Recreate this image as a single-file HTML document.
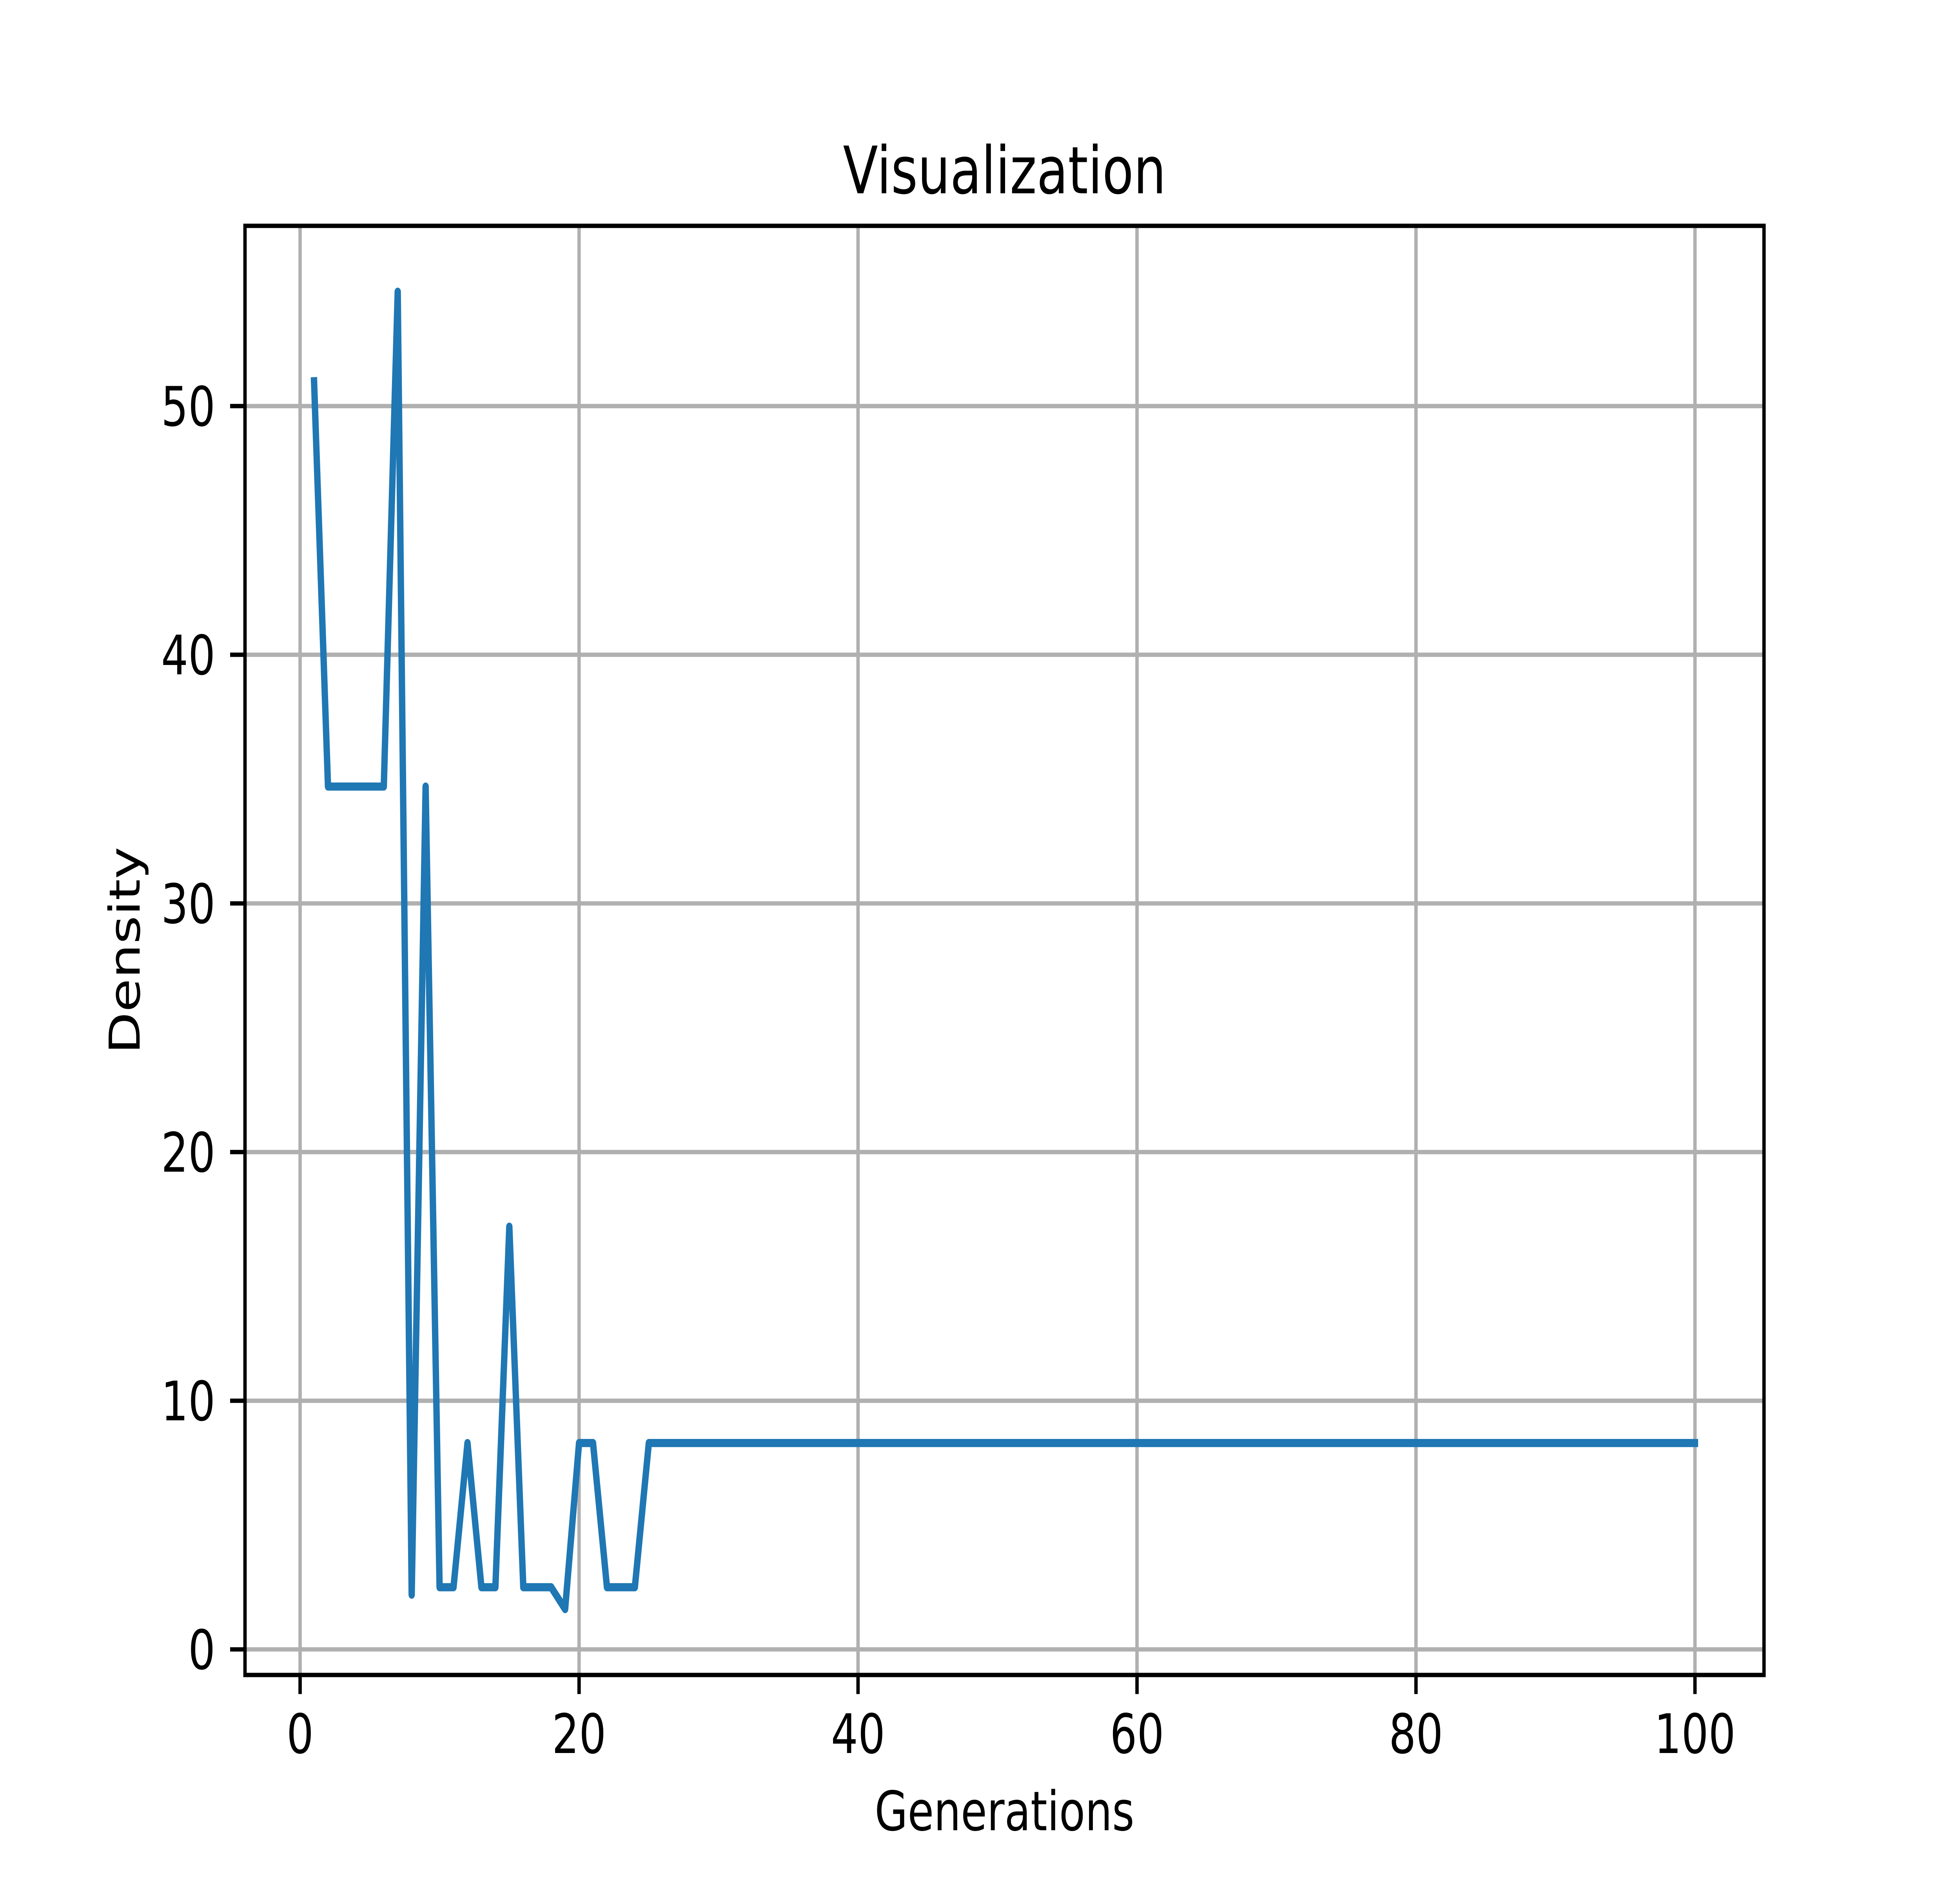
<!DOCTYPE html>
<html><head><meta charset="utf-8"><style>
html,body{margin:0;padding:0;background:#fff;overflow:hidden;width:100vw;height:100vh;}
svg{display:block;width:100vw;height:100vh;}
text{font-family:"DejaVu Sans","Liberation Sans",sans-serif;fill:#000;}
</style></head><body>
<svg id="chart" viewBox="0 0 6400 4800" preserveAspectRatio="none" xmlns="http://www.w3.org/2000/svg">
<rect width="6400" height="4800" fill="#fff"/>
<g id="grid"></g>
<g id="series"></g>
<rect x="800" y="576" width="4960" height="3696" fill="none" stroke="#000" stroke-width="11.1"/>
<g id="ticks"></g>
<text x="3280" y="493" font-size="167" text-anchor="middle">Visualization</text>
<text x="3280" y="4668" font-size="139" text-anchor="middle">Generations</text>
<text x="0" y="0" font-size="139" text-anchor="middle" transform="translate(456,2424) rotate(-90)">Density</text>
</svg>
<script>
const xTicks = [0, 20, 40, 60, 80, 100];
const yTicks = [0, 10, 20, 30, 40, 50];
const generations = [];
for (let i = 1; i <= 100; i++) generations.push(i);
const densityHead = [51.0, 34.7, 34.7, 34.7, 34.7, 34.7, 54.6, 2.2, 34.7, 2.5, 2.5, 8.3, 2.5, 2.5, 17.0, 2.5, 2.5, 2.5, 1.62, 8.3, 8.3, 2.5, 2.5, 2.5];
const densityTailValue = 8.3;
const density = densityHead.slice();
while (density.length < generations.length) density.push(densityTailValue);

const L = 800, R = 5760, T = 576, B = 4272;
const xmin = -3.95, xmax = 104.95;
const dmin = Math.min(...density), dmax = Math.max(...density);
const ypad = (dmax - dmin) * 0.05;
const ymin = dmin - ypad, ymax = dmax + ypad;
const sx = v => L + (v - xmin) / (xmax - xmin) * (R - L);
const sy = v => B - (v - ymin) / (ymax - ymin) * (B - T);
const NS = "http://www.w3.org/2000/svg";
const grid = document.getElementById('grid');
const ticks = document.getElementById('ticks');
const series = document.getElementById('series');
function mk(tag, attrs) { const e = document.createElementNS(NS, tag); for (const k in attrs) e.setAttribute(k, attrs[k]); return e; }

xTicks.forEach(t => {
  const x = sx(t);
  const g = mk('line', {x1: x, x2: x, y1: T, y2: B, stroke: '#b0b0b0', 'stroke-width': 11.1});
  
  
  grid.appendChild(g);
  const tk = mk('line', {x1: x, x2: x, y1: B, y2: B + 48.6, stroke: '#000', 'stroke-width': 11.1});
  
  
  ticks.appendChild(tk);
  const lb = mk('text', {x: x, y: B + 97 + 102, 'font-size': 139, 'text-anchor': 'middle'});
  lb.textContent = t;
  
  
  ticks.appendChild(lb);
});
yTicks.forEach(t => {
  const y = sy(t);
  const g = mk('line', {x1: L, x2: R, y1: y, y2: y, stroke: '#b0b0b0', 'stroke-width': 11.1});
  
  
  grid.appendChild(g);
  const tk = mk('line', {x1: L - 48.6, x2: L, y1: y, y2: y, stroke: '#000', 'stroke-width': 11.1});
  
  
  ticks.appendChild(tk);
  const lb = mk('text', {x: L - 97, y: y + 50, 'font-size': 139, 'text-anchor': 'end'});
  lb.textContent = t;
  
  
  ticks.appendChild(lb);
});
const pts = generations.map((g, i) => sx(g).toFixed(1) + ',' + sy(density[i]).toFixed(1)).join(' ');
const line = mk('polyline', {points: pts, fill: 'none', stroke: '#1f77b4', 'stroke-width': 20.8, 'stroke-linejoin': 'round', 'stroke-linecap': 'square'});


series.appendChild(line);
</script>
</body></html>
